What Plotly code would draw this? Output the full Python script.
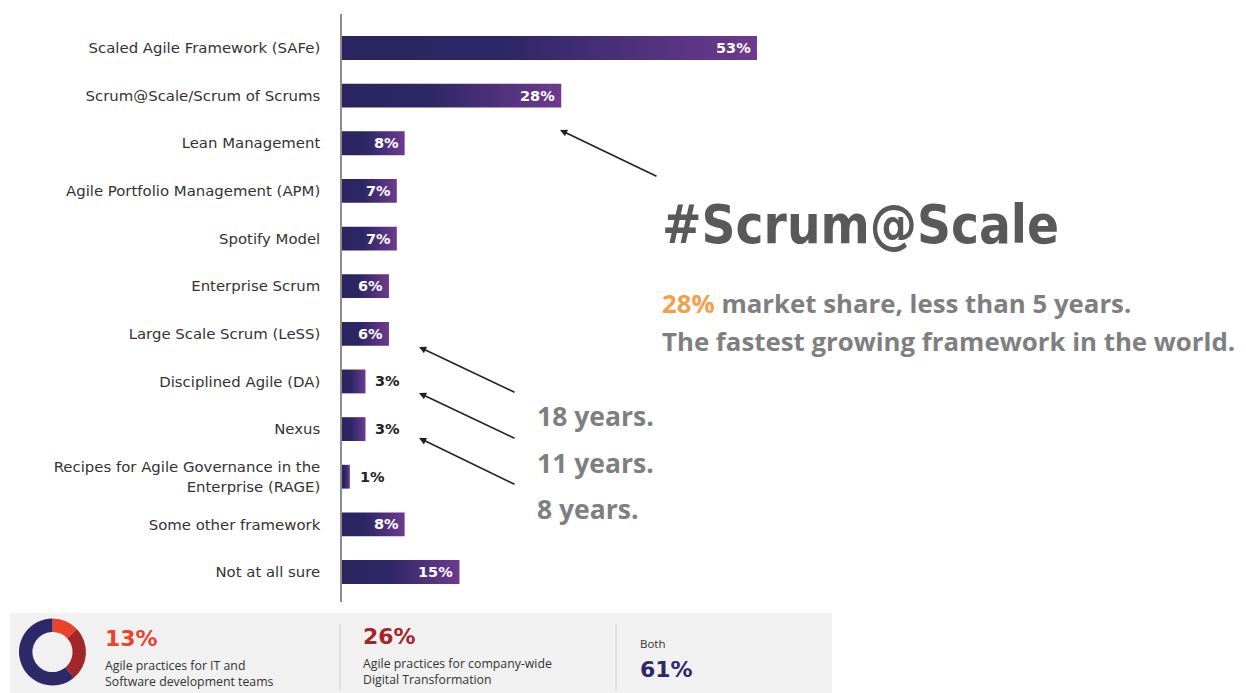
import plotly.graph_objects as go

W, H = 1246, 693

categories = [
    "Scaled Agile Framework (SAFe)",
    "Scrum@Scale/Scrum of Scrums",
    "Lean Management",
    "Agile Portfolio Management (APM)",
    "Spotify Model",
    "Enterprise Scrum",
    "Large Scale Scrum (LeSS)",
    "Disciplined Agile (DA)",
    "Nexus",
    "Recipes for Agile Governance in the<br>Enterprise (RAGE)",
    "Some other framework",
    "Not at all sure",
]
values = [53, 28, 8, 7, 7, 6, 6, 3, 3, 1, 8, 15]

donut_labels = ["IT and Software development teams", "Company-wide Digital Transformation", "Both"]
donut_values = [13, 26, 61]
donut_colors = ["#e8432c", "#a3262b", "#2d2868"]

years_labels = ["18 years.", "11 years.", "8 years."]


def px(x):
    return x / W


def py(y):
    return 1 - y / H


BAR_COLORSCALE = [[0, "#2a2461"], [0.38, "#2c2664"], [1, "#6d3a8f"]]
HALF = 0.25

fig = go.Figure()

for i, v in enumerate(values):
    fig.add_trace(go.Scatter(
        x=[0, v, v, 0, 0],
        y=[i - HALF, i - HALF, i + HALF, i + HALF, i - HALF],
        mode="lines",
        fill="toself",
        fillgradient=dict(type="horizontal", colorscale=BAR_COLORSCALE),
        line=dict(width=0, color="rgba(0,0,0,0)"),
        hoverinfo="skip",
        showlegend=False,
    ))

# value labels
for i, v in enumerate(values):
    inside = v >= 5
    fig.add_annotation(
        x=v, y=i, xref="x", yref="y",
        text=f"<b>{v}%</b>",
        showarrow=False,
        xanchor="right" if inside else "left",
        xshift=-4 if inside else 8,
        yanchor="middle",
        font=dict(family="DejaVu Sans, sans-serif", size=14.5,
                  color="white" if inside else "#222222"),
    )

# donut
fig.add_trace(go.Pie(
    labels=donut_labels, values=donut_values,
    marker=dict(colors=donut_colors, line=dict(width=0)),
    hole=0.6, sort=False, direction="clockwise", rotation=0,
    textinfo="none", hoverinfo="label+percent", showlegend=False,
    domain=dict(x=[px(19), px(86)], y=[py(686), py(618)]),
))

shapes = [
    dict(type="rect", xref="paper", yref="paper",
         x0=px(10), x1=px(832), y0=0, y1=py(613),
         fillcolor="#f1f1f1", line=dict(width=0), layer="below"),
    dict(type="line", xref="paper", yref="paper",
         x0=px(340), x1=px(340), y0=py(624), y1=py(690),
         line=dict(color="#d0d0d0", width=1)),
    dict(type="line", xref="paper", yref="paper",
         x0=px(616), x1=px(616), y0=py(624), y1=py(690),
         line=dict(color="#d0d0d0", width=1)),
]


def text_ann(x, y, text, size, color, family="Open Sans, sans-serif", yanchor="middle"):
    fig.add_annotation(x=px(x), y=py(y), xref="paper", yref="paper",
                       text=text, showarrow=False, xanchor="left", yanchor=yanchor,
                       align="left", font=dict(family=family, size=size, color=color))


text_ann(660, 224, "<b>#Scrum@Scale</b>", 52.5, "#595959",
         family="Liberation Sans Narrow, DejaVu Sans Condensed, Arial Narrow, sans-serif")
text_ann(660, 303, "<b><span style='color:#f0a04f'>28%</span> market share, less than 5 years.</b>",
         25.8, "#7f7f7f")
text_ann(660, 341, "<b>The fastest growing framework in the world.</b>", 25.8, "#7f7f7f")
for t, yy in zip(years_labels, [416, 463, 509]):
    text_ann(535, yy, f"<b>{t}</b>", 26.5, "#7f7f7f")

# arrows (head, tail) in pixels
arrows = [((560, 130), (658, 177)),
          ((419, 347), (516, 393)),
          ((419, 393), (516, 439)),
          ((419, 438), (516, 485))]
for (hx, hy), (tx, ty) in arrows:
    fig.add_annotation(x=px(hx), y=py(hy), xref="paper", yref="paper",
                       ax=tx - hx, ay=ty - hy, axref="pixel", ayref="pixel",
                       text="", showarrow=True, arrowhead=2, arrowsize=0.9,
                       arrowwidth=1.6, arrowcolor="#222222")

# bottom panel texts
BIG = "DejaVu Sans, sans-serif"
text_ann(103, 638, "<b>13%</b>", 22, "#e8432c", family=BIG)
text_ann(103, 655, "Agile practices for IT and<br>Software development teams", 12.3, "#333333",
         yanchor="top")
text_ann(361, 636, "<b>26%</b>", 22, "#a3262b", family=BIG)
text_ann(361, 653, "Agile practices for company-wide<br>Digital Transformation", 12.3, "#333333",
         yanchor="top")
text_ann(638, 643, "Both", 11.5, "#333333")
text_ann(638, 669, "<b>61%</b>", 22, "#2d2868", family=BIG)

PX_PER_PCT = 7.83
fig.update_layout(
    width=W, height=H,
    margin=dict(l=0, r=0, t=0, b=0),
    paper_bgcolor="white", plot_bgcolor="white",
    showlegend=False,
    shapes=shapes,
    xaxis=dict(domain=[px(342), 1], range=[0, (W - 342) / PX_PER_PCT],
               visible=False, fixedrange=True),
    yaxis=dict(domain=[py(602), py(14)], range=[11.63, -0.714],
               tickmode="array", tickvals=list(range(len(categories))),
               ticktext=categories, ticks="outside", ticklen=17,
               tickcolor="rgba(0,0,0,0)", showgrid=False, zeroline=False,
               showline=True, linecolor="#8c8c8c", linewidth=1.5,
               tickfont=dict(family="DejaVu Sans, sans-serif", size=14.9, color="#333333"),
               fixedrange=True),
)

fig.write_html("out.html")
